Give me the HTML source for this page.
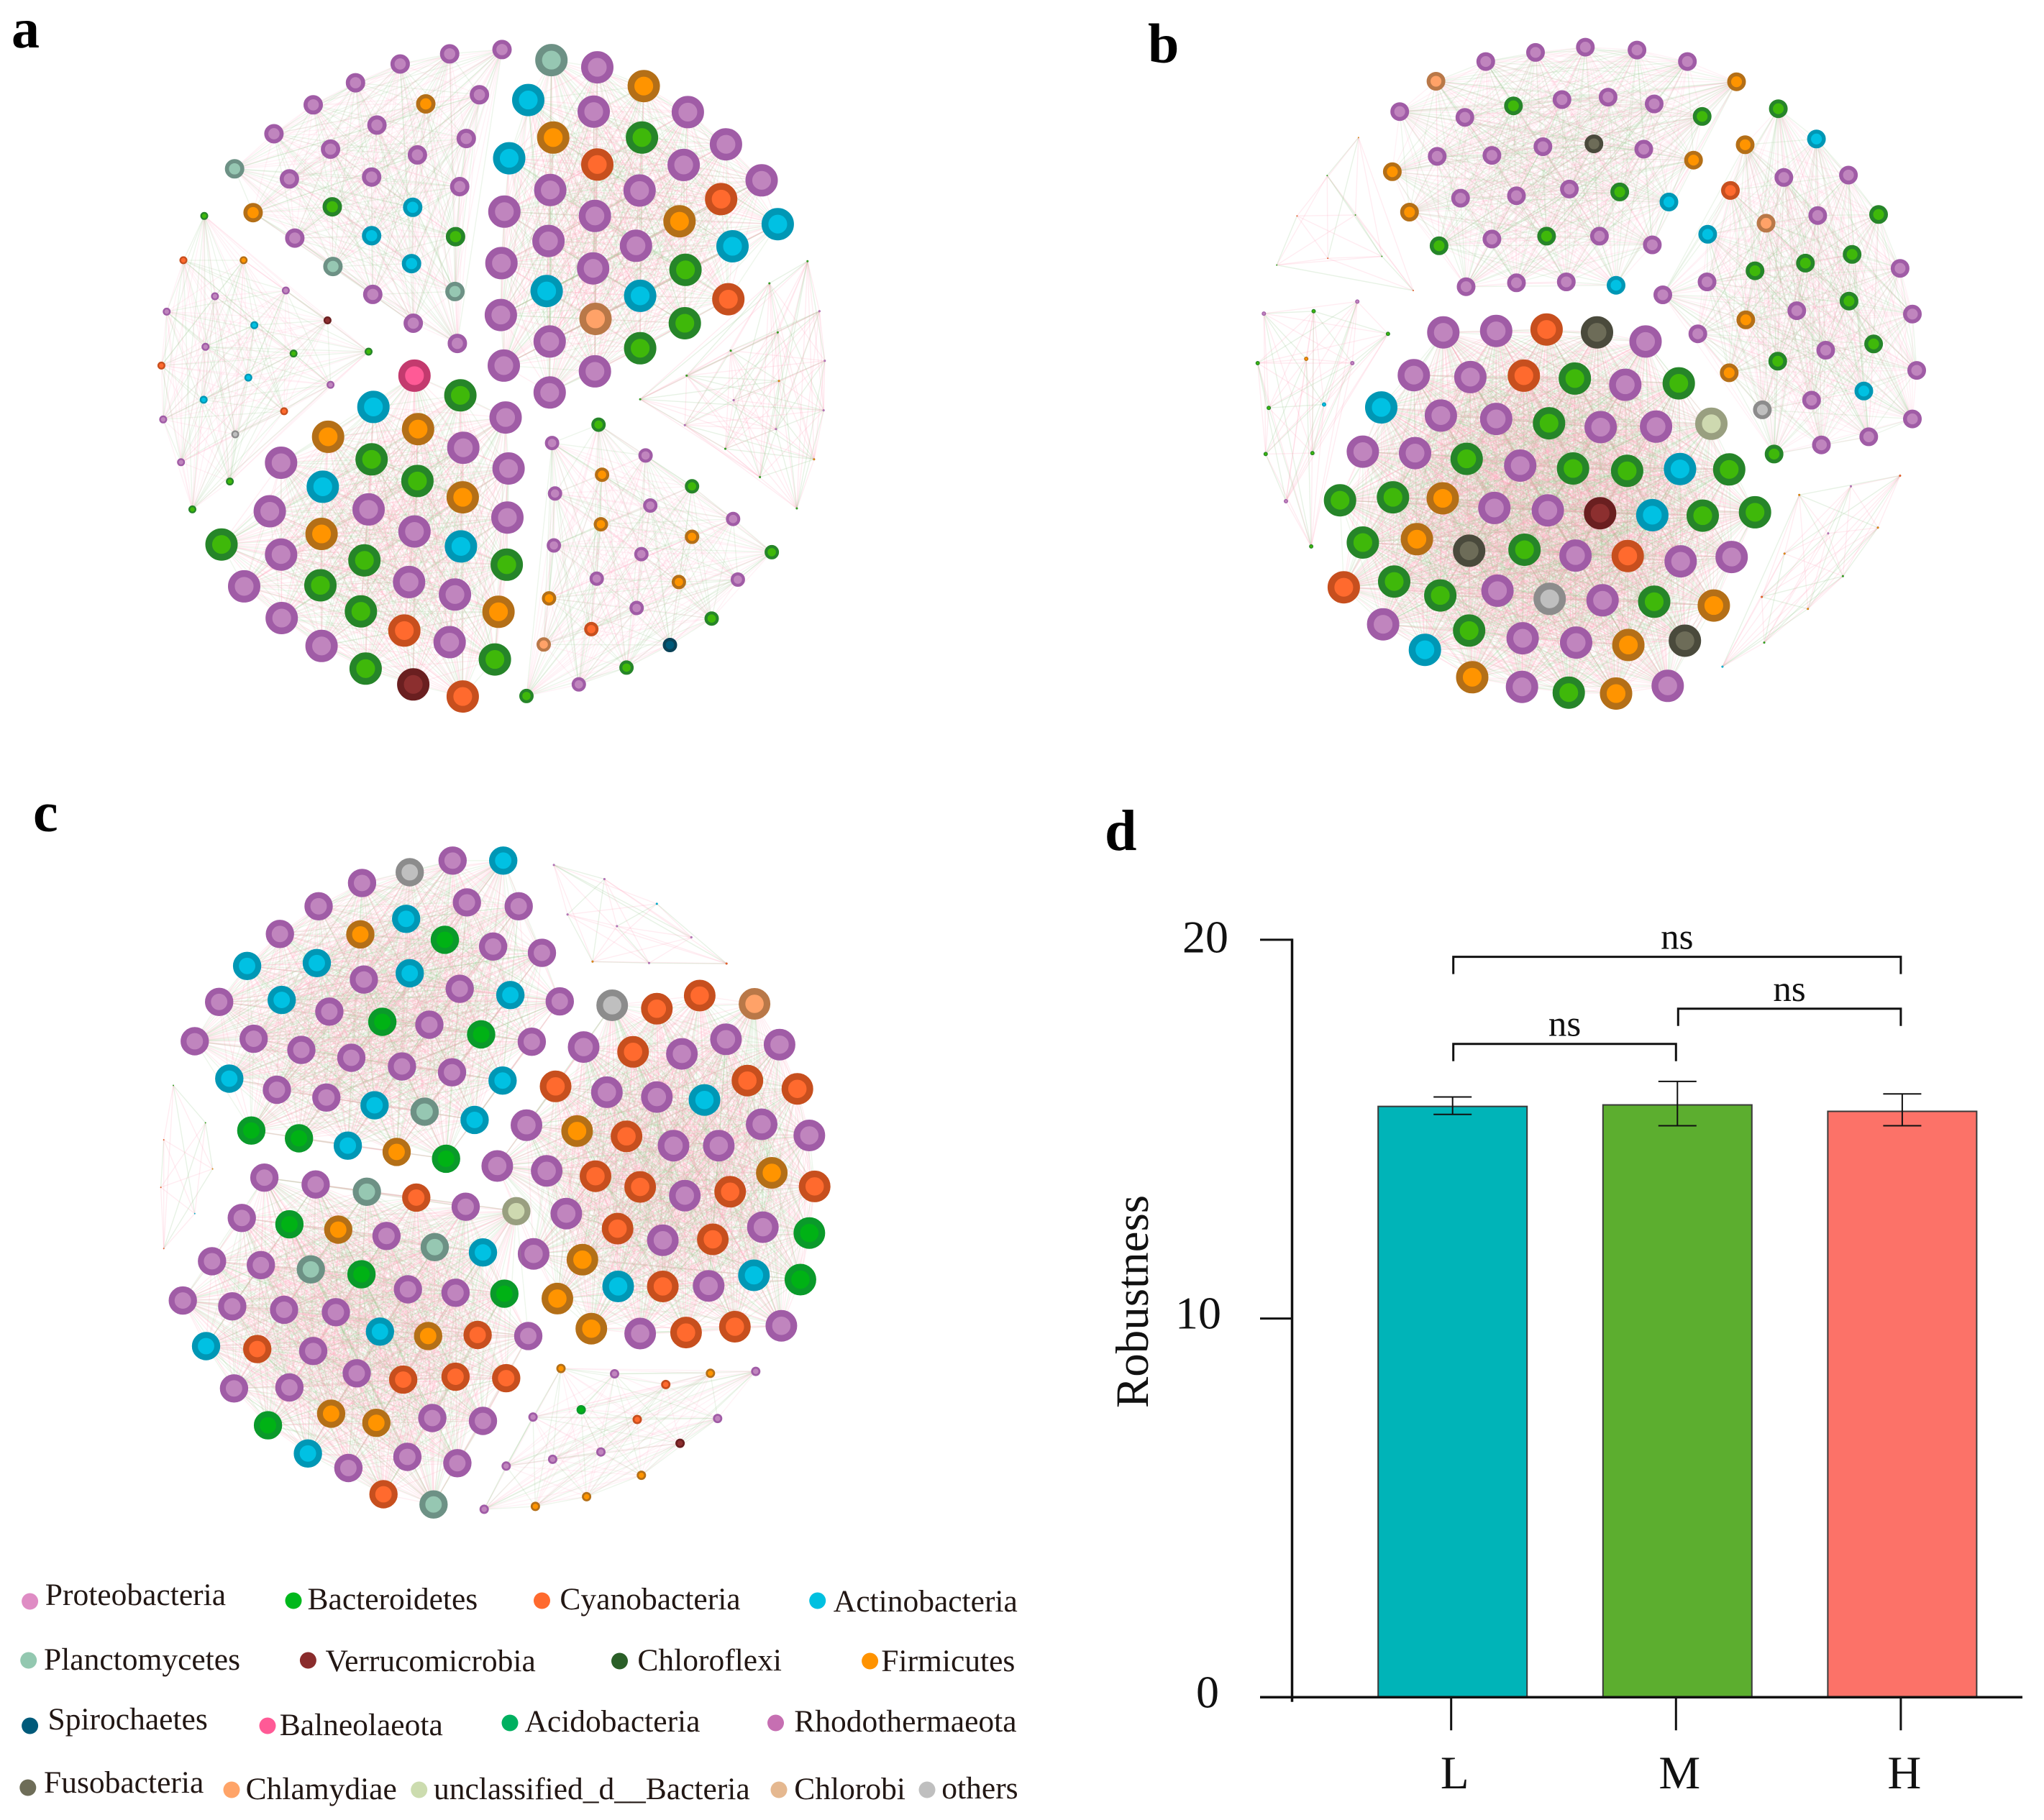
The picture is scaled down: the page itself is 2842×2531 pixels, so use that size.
<!DOCTYPE html>
<html lang="en">
<head>
<meta charset="utf-8">
<title>Co-occurrence networks and robustness</title>
<style>
html,body{margin:0;padding:0;background:#fff;}
svg{display:block;}
text{font-family:"Liberation Serif",serif;fill:#111;}
.letter{font-weight:bold;fill:#000;}
.leg{font-size:43.5px;fill:#221714;}
</style>
</head>
<body>
<svg id="figure" xmlns="http://www.w3.org/2000/svg" width="2842" height="2531" viewBox="0 0 2842 2531">
<rect x="0" y="0" width="2842" height="2531" fill="#ffffff"/>
<g id="networks"></g>
<text class="letter" x="16" y="66" font-size="78">a</text>
<text class="letter" x="1596" y="87" font-size="78">b</text>
<text class="letter" x="46" y="1156" font-size="78">c</text>
<text class="letter" x="1536" y="1182" font-size="80">d</text>
<g id="legend">
<g><circle cx="41.6" cy="2227" r="11.5" fill="#df8cc4"/><text class="leg" x="62.8" y="2232">Proteobacteria</text></g>
<g><circle cx="408" cy="2226" r="11.5" fill="#00b81c"/><text class="leg" x="427.5" y="2238">Bacteroidetes</text></g>
<g><circle cx="753.5" cy="2226" r="11.5" fill="#ff6a2e"/><text class="leg" x="778.4" y="2238">Cyanobacteria</text></g>
<g><circle cx="1136.7" cy="2226" r="11.5" fill="#00c0e0"/><text class="leg" x="1158.8" y="2241">Actinobacteria</text></g>
<g><circle cx="39.7" cy="2309" r="11.5" fill="#93c8b0"/><text class="leg" x="61" y="2322">Planctomycetes</text></g>
<g><circle cx="428.4" cy="2309" r="11.5" fill="#8a2c2c"/><text class="leg" x="452.5" y="2324">Verrucomicrobia</text></g>
<g><circle cx="861.5" cy="2310" r="11.5" fill="#2a5f28"/><text class="leg" x="886.4" y="2323">Chloroflexi</text></g>
<g><circle cx="1209.6" cy="2310" r="11.5" fill="#ff9300"/><text class="leg" x="1225.3" y="2324">Firmicutes</text></g>
<g><circle cx="41.6" cy="2400" r="11.5" fill="#005a7a"/><text class="leg" x="66.5" y="2405">Spirochaetes</text></g>
<g><circle cx="372" cy="2400" r="11.5" fill="#ff5a96"/><text class="leg" x="388.7" y="2413">Balneolaeota</text></g>
<g><circle cx="709" cy="2396" r="11.5" fill="#00b060"/><text class="leg" x="729.5" y="2408">Acidobacteria</text></g>
<g><circle cx="1078.5" cy="2396" r="11.5" fill="#c66fb2"/><text class="leg" x="1104.3" y="2408">Rhodothermaeota</text></g>
<g><circle cx="38.8" cy="2486" r="11.5" fill="#6e6d58"/><text class="leg" x="61" y="2493">Fusobacteria</text></g>
<g><circle cx="322" cy="2489" r="11.5" fill="#ffa468"/><text class="leg" x="341.6" y="2502">Chlamydiae</text></g>
<g><circle cx="582.7" cy="2489" r="11.5" fill="#ccdcaf"/><text class="leg" x="603" y="2502">unclassified_d__Bacteria</text></g>
<g><circle cx="1083" cy="2489" r="11.5" fill="#e5b890"/><text class="leg" x="1104.3" y="2502">Chlorobi</text></g>
<g><circle cx="1289" cy="2489" r="11.5" fill="#bfbfbf"/><text class="leg" x="1309.3" y="2501">others</text></g>
</g>
<g id="barchart"></g>
</svg>
<script>
/* ---------- Panel d values ---------- */
const categories = ['L', 'M', 'H'];
const robustnessMeans = [15.6, 15.64, 15.47];
const errorUpper = [15.85, 16.26, 15.93];
const errorLower = [15.39, 15.09, 15.09];
const barColors = ['#00b4b8', '#5cae2f', '#fc7268'];
const yTicks = [0, 10, 20];
const yTickLabels = ['0', '10', '20'];
const sigFrom = [0, 1, 0];
const sigTo = [2, 2, 1];
const sigLevel = [19.55, 18.18, 17.25];
const sigLabels = ['ns', 'ns', 'ns'];

/* ---------- Network phyla ---------- */
const phylumRing = {P:'#a05ca6',G:'#268529',R:'#c74f1e',C:'#0097b5',O:'#b46f17',T:'#6d9185',V:'#6a1f20',S:'#0a4258',B:'#c33a6e',A:'#0a9a2a',F:'#4a4a3c',H:'#b97848',U:'#999f80',X:'#8c8c8c'};
const phylumFill = {P:'#c085be',G:'#3fb80a',R:'#ff6a2e',C:'#00c1e3',O:'#ff9400',T:'#96c7b2',V:'#8c2f2f',S:'#005a7a',B:'#ff5a96',A:'#00b215',F:'#6d6c58',H:'#ffa268',U:'#ced9b0',X:'#bfbfbf'};
const phylumName = {P:'proteobacteria',G:'bacteroidetes',R:'cyanobacteria',C:'actinobacteria',O:'firmicutes',T:'planctomycetes',V:'verrucomicrobia',S:'spirochaetes',B:'balneolaeota',A:'acidobacteria',F:'fusobacteria',H:'chlamydiae',U:'unclassified',X:'others'};

/* Layout units per panel, each module = node list "phylum x y" */
const panelA = [
 {r:22.5,n:'T926,125 P1003,140 O1081,179 P1155,233 P1219,300 P1279,375 C1306,466 C887,208 P997,232 O929,286 G1078,286 C855,329 R1003,342 P1148,343 P924,395 P1074,396 R1211,414 P847,440 P999,449 O1141,460 P921,501 P1068,511 C1230,512 P842,547 P996,558 G1151,561 C918,605 C1075,615 R1223,622 P841,655 H1000,663 G1150,672 P923,710 G1075,724 P846,760 P999,772 P923,816'},
 {r:22.5,n:'B696,781 G773,822 C627,846 P849,868 O702,892 O551,908 P778,931 G624,955 P472,962 P854,974 G701,1000 C542,1012 O777,1034 P619,1059 P453,1063 P852,1076 P696,1105 O540,1110 G372,1132 C774,1136 P472,1153 G612,1165 G851,1174 P687,1210 G538,1217 P410,1219 P764,1236 G606,1271 O837,1272 P473,1285 R679,1311 P755,1335 P540,1343 G831,1371 G614,1390 V694,1423 R777,1448'},
 {r:13.5,n:'P843,103 P755,112 P672,133 P597,172 P526,218 P460,278 T394,351 O425,442 P495,495 T559,554 P626,612 P694,672 P768,714 T764,606 G765,492 C691,548 C624,490 C693,431 G558,430 P486,372 P624,368 P772,388 P701,322 P555,310 P633,260 P783,288 O715,216 P805,197'},
 {r:5.5,n:'G343,449 R308,541 O409,541 P480,604 P361,616 P280,648 V550,666 C427,676 P345,721 G619,731 G493,735 R271,760 C417,785 P555,800 C342,831 R477,855 P274,872 X395,903 P304,961 G386,1001 G323,1059'},
 {r:10,n:'G1005,883 P927,921 P1084,947 O1011,987 G1162,1011 P932,1026 P1092,1051 P1231,1079 O1009,1090 O1162,1116 P930,1134 P1077,1152 G1296,1148 P1002,1203 O1140,1210 P1239,1205 O922,1244 P1069,1264 G1195,1286 R993,1308 H913,1340 S1125,1341 G1052,1388 P972,1423 G884,1447'},
 {r:1.5,n:'G1356,543 G1292,589 P1376,647 G1306,691 G1227,729 P1385,750 G1153,781 O1308,792 G1075,830 P1232,832 P1383,853 P1150,884 P1303,892 G1218,933 O1367,955 G1276,992 G1338,1057'}
];
const panelB = [
 {r:13,n:'H581,169 P662,128 P743,109 P824,98 P908,104 P990,128 O1070,170 P522,232 P628,244 G707,220 P786,207 P861,202 P936,216 G1014,242 P583,325 P672,323 P755,305 F838,299 P919,310 O1000,333 O510,357 P621,412 P712,407 P798,393 G880,399 C960,420 O538,441 G586,511 P672,497 G761,491 P847,491 P933,509 P630,596 P712,588 P793,586 C874,593'},
 {r:13,n:'G1138,226 C1200,289 O1084,301 P1252,364 P1147,369 R1060,396 G1301,446 P1202,448 H1118,464 C1023,487 G1258,529 G1182,547 G1100,563 P1336,558 P1022,586 P950,613 G1253,626 P1168,646 P1356,653 O1085,665 P1007,694 G1293,715 P1215,728 G1137,751 P1363,770 O1058,775 C1277,813 P1192,832 X1112,852 P1356,871 P1285,908 P1208,925 G1131,944'},
 {r:22.5,n:'P593,691 P679,688 R761,685 F843,691 P922,710 P545,780 P637,784 R724,781 G807,787 P889,800 G976,797 C492,847 P589,864 P679,871 G765,880 P849,888 P939,887 U1029,881 P462,939 P547,942 G631,954 P718,968 G804,974 G892,979 C978,975 G1058,976 G425,1040 G511,1034 O592,1036 P676,1056 P763,1061 V848,1067 C933,1071 G1015,1072 G1100,1065 G462,1128 O550,1121 F635,1145 G725,1143 P808,1155 R893,1156 P979,1167 P1062,1158 R431,1221 G513,1209 G588,1238 P681,1228 X766,1245 P852,1248 G936,1251 O1033,1259 P495,1298 G635,1311 C563,1351 P722,1327 P809,1336 O894,1341 F986,1332 O640,1408 P721,1428 G797,1440 O874,1442 P958,1426'},
 {r:3,n:'P301,652 G382,647 P453,627 G503,694 G291,755 O370,746 P445,755 G309,848 C399,841 G304,944 G380,942 P337,1042 G378,1136'},
 {r:1,n:'O455,286 G404,365 R355,449 G450,447 G322,551 R405,537 G493,533 R544,604'},
 {r:1.5,n:'R1336,989 O1172,1029 P1256,1011 O1300,1097 P1219,1109 O1148,1151 G1243,1198 R1111,1241 O1186,1266 G1115,1336 C1047,1386'}
];
const panelC = [
 {r:19.7,n:'C845,173 P760,173 X688,197 P608,219 P535,267 P470,324 C415,390 P368,464 P327,545 C385,622 A422,729 A502,745 C584,760 O666,773 A749,787 C797,707 T713,690 C629,677 P548,661 P465,645 P426,540 C473,460 C532,384 O605,325 C682,293 P784,259 P871,267 A747,336 P828,350 P910,363 P611,418 C688,405 P772,437 C857,450 P940,463 P553,484 A642,505 P721,511 A808,531 P893,546 P506,563 P590,579 P675,597 P759,609 C844,626'},
 {r:22,n:'X1028,471 R1103,478 R1175,451 H1267,468 P980,557 R1063,567 P1145,571 P1219,541 P1309,552 R933,638 P1019,650 P1103,660 C1183,666 R1255,626 R1339,643 P884,718 O969,730 R1052,741 P1131,760 P1207,760 P1279,716 P1359,739 P835,802 P918,812 R1000,823 R1075,845 P1150,863 R1226,855 O1296,816 R1368,844 P951,900 R1037,931 P1113,955 R1197,953 P1281,928 A1359,940 P896,983 O978,995 C1038,1050 R1113,1050 P1190,1049 C1266,1027 A1344,1036 O936,1075 O993,1137 P1075,1147 R1152,1145 R1234,1133 P1312,1131'},
 {r:19.7,n:'P444,826 P530,840 T616,855 R699,867 P782,886 U867,895 P406,909 A486,922 O568,933 P649,946 T730,969 C811,980 P356,998 P438,1006 T522,1015 A607,1025 P685,1056 P765,1063 A847,1065 P307,1079 P390,1091 P477,1098 P564,1103 C638,1143 O719,1152 R802,1150 P887,1152 C346,1173 R432,1179 P526,1183 P599,1229 R677,1242 R765,1236 R850,1239 P393,1260 P486,1258 O556,1312 O632,1331 P726,1321 P811,1327 A450,1336 C517,1394 P585,1424 P684,1401 P768,1414 R644,1478 T728,1499'},
 {r:6.5,n:'O942,1219 P1032,1230 O1193,1229 P1269,1225 R1118,1252 P895,1319 A976,1304 R1070,1324 P1205,1322 V1142,1373 P1009,1391 P928,1406 P850,1420 O1077,1439 O985,1483 O899,1503 P813,1509'},
 {r:1.5,n:'P930,182 P1015,211 C1103,262 P953,284 P1036,308 P1161,331 O995,381 P1090,384 R1220,385'},
 {r:1,n:'G291,636 G345,713 R275,748 O357,808 R270,846 C327,900 R275,972'}
];

const SVGNS = 'http://www.w3.org/2000/svg';
function make(tag, attrs, parent){
  const el = document.createElementNS(SVGNS, tag);
  for (const k in attrs) el.setAttribute(k, attrs[k]);
  parent.appendChild(el);
  return el;
}

/* ---------- Networks ---------- */
function drawPanel(panelName, modules, offX, offY, sx, sy){
  const root = document.getElementById('networks');
  const pg = make('g', {}, root);
  
  
  const mapX = u => offX + u / sx;
  const mapY = v => offY + v / sy;
  modules.forEach(mod => {
    const nodes = mod.n.split(' ').map(s => {
      const xy = s.slice(1).split(',');
      return {c: s[0], x: mapX(+xy[0]), y: mapY(+xy[1])};
    });
    const big = mod.r > 15;
    const tiny = mod.r < 4;
    const eg = make('g', {fill: 'none', 'stroke-width': 1.4}, pg);
    
    
    for (let i = 0; i < nodes.length; i++) {
      for (let j = i + 1; j < nodes.length; j++) {
        const k = (i * 3 + j * 5) % 7;
        const pink = k < 4;
        const skip = tiny && k === 6;
        if (skip) continue;
        const line = make('line', {
          x1: nodes[i].x.toFixed(1), y1: nodes[i].y.toFixed(1),
          x2: nodes[j].x.toFixed(1), y2: nodes[j].y.toFixed(1),
          stroke: pink ? '#ffa8c0' : '#93c688',
          'stroke-opacity': big ? (pink ? 0.2 : 0.16) : (tiny ? 0.22 : (pink ? 0.15 : 0.17))
        }, eg);
        
        
      }
    }
    nodes.forEach(nd => {
      const R = mod.r;
      const circle = make('circle', {
        cx: nd.x.toFixed(1), cy: nd.y.toFixed(1),
        r: (R * 0.79).toFixed(2),
        fill: phylumFill[nd.c], stroke: phylumRing[nd.c],
        'stroke-width': (R * 0.42).toFixed(2)
      }, pg);
      
      
    });
  });
}
drawPanel('network-panel-a', panelA, 0, 0, 1.2077, 1.495);
drawPanel('network-panel-b', panelB, 1500, 0, 1.17, 1.495);
drawPanel('network-panel-c', panelC, 0, 1080, 1.2077, 1.481);

/* ---------- Bar chart (panel d) ---------- */
const chart = document.getElementById('barchart');
const yScale = v => 2360.3 - v * 52.67;
const xScale = i => 2019.7 + i * 312.6;
const barWidth = 207;
const ink = '#111111';

function addText(str, x, y, size, name, extra){
  const t = make('text', Object.assign({x: x, y: y, 'font-size': size}, extra || {}), chart);
  t.textContent = str;
  
  
  return t;
}
function addLine(x1, y1, x2, y2, w, name){
  const l = make('line', {x1: x1, y1: y1, x2: x2, y2: y2, stroke: ink, 'stroke-width': w}, chart);
  
  
  return l;
}

categories.forEach((cat, i) => {
  const top = yScale(robustnessMeans[i]);
  const cx = xScale(i);
  const bar = make('rect', {
    x: cx - barWidth / 2, y: top,
    width: barWidth, height: yScale(0) - top,
    fill: barColors[i], stroke: '#3a3a3a', 'stroke-width': 2
  }, chart);
  
  
  addLine(cx, yScale(errorUpper[i]), cx, yScale(errorLower[i]), 2, 'error-bar-' + cat);
  addLine(cx - 26.5, yScale(errorUpper[i]), cx + 26.5, yScale(errorUpper[i]), 2, 'error-cap-upper-' + cat);
  addLine(cx - 26.5, yScale(errorLower[i]), cx + 26.5, yScale(errorLower[i]), 2, 'error-cap-lower-' + cat);
  addLine(cx - 2, yScale(0), cx - 2, yScale(0) + 46, 3, 'x-tick-' + cat);
  addText(cat, cx + 3, 2487, 65, 'x-tick-label-' + cat, {'text-anchor': 'middle'});
});

addLine(1796.5, yScale(20) - 1.5, 1796.5, yScale(0) + 6.5, 3.5, 'y-axis-line');
addLine(1752, yScale(0), 2812, yScale(0), 3.5, 'x-axis-line');
yTicks.forEach((tick, i) => {
  if (tick !== 0) addLine(1752, yScale(tick), 1796.5, yScale(tick), 3, 'y-tick-' + tick);
  addText(yTickLabels[i], tick === 20 ? 1708 : (tick === 10 ? 1698 : 1695), yScale(tick) + (tick === 20 ? 17.5 : 14), 64, 'y-tick-label-' + tick, {'text-anchor': 'end'});
});
addText('Robustness', 0, 0, 65, 'y-axis-title', {
  'text-anchor': 'middle',
  transform: 'translate(1596,1810) rotate(-90)'
});

sigLabels.forEach((lab, i) => {
  const x1 = xScale(sigFrom[i]) + 1, x2 = xScale(sigTo[i]) - 2;
  const y = yScale(sigLevel[i]);
  const path = make('path', {
    d: 'M' + x1 + ' ' + (y + 24) + 'V' + y + 'H' + x2 + 'V' + (y + 24),
    fill: 'none', stroke: ink, 'stroke-width': 3
  }, chart);
  
  
  addText(lab, (x1 + x2) / 2, y - 11, 51, 'significance-label', {'text-anchor': 'middle'});
});
</script>
</body>
</html>
